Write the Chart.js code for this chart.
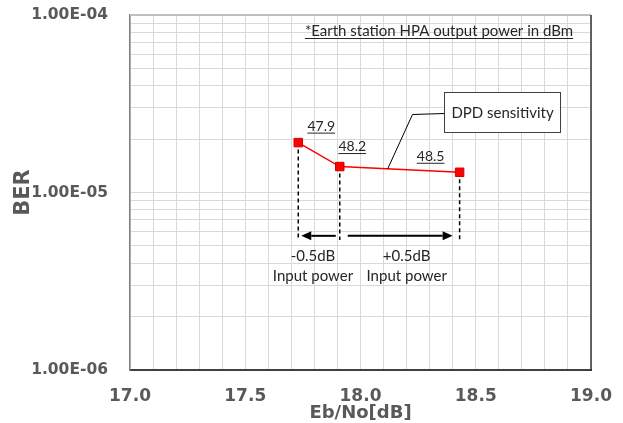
<!DOCTYPE html>
<html><head><meta charset="utf-8">
<script src="https://cdn.jsdelivr.net/npm/chart.js@4"></script>
<style>html,body{margin:0;padding:0;background:#fff}#wrap{width:623px;height:423px;position:relative}canvas{display:block}</style>
</head><body><div id="wrap"><canvas id="c" width="623" height="423" style="width:623px;height:423px"></canvas></div>
<script>
// ---- data ----
const ebno = [17.73, 17.91, 18.43];
const ber = [1.91e-5, 1.40e-5, 1.30e-5];
const hpaPower = ['47.9', '48.2', '48.5'];
const xTickLabels = ['17.0', '17.5', '18.0', '18.5', '19.0'];
const yTickLabels = ['1.00E-06', '1.00E-05', '1.00E-04'];
const xTitle = 'Eb/No[dB]';
const yTitle = 'BER';
const noteText = '*Earth station HPA output power in dBm';
const calloutText = 'DPD sensitivity';
const stepLabels = ['-0.5dB', '+0.5dB'];
const stepSub = 'Input power';
const dropBottom = 5.4e-6;   // BER level where dashed drop lines end
const arrowLevel = 5.7e-6;   // BER level of the step arrows

const X_MIN = 17, X_MAX = 19, Y_MIN = 1e-6, Y_MAX = 1e-4;
const ANN_FONT = '"Lato", "Open Sans", sans-serif';
const TXT = '#262626';

function underlined(ctx, text, cx, baseline, size) {
  ctx.save();
  ctx.font = size + 'px ' + ANN_FONT;
  ctx.fillStyle = TXT;
  ctx.textAlign = 'center';
  ctx.textBaseline = 'alphabetic';
  ctx.fillText(text, cx, baseline);
  const w = ctx.measureText(text).width;
  ctx.strokeStyle = TXT;
  ctx.lineWidth = 1;
  ctx.beginPath();
  ctx.moveTo(cx - w / 2, baseline + 2.5);
  ctx.lineTo(cx + w / 2, baseline + 2.5);
  ctx.stroke();
  ctx.restore();
}
function plain(ctx, text, cx, baseline, size) {
  ctx.save();
  ctx.font = size + 'px ' + ANN_FONT;
  ctx.fillStyle = TXT;
  ctx.textAlign = 'center';
  ctx.textBaseline = 'alphabetic';
  ctx.fillText(text, cx, baseline);
  ctx.restore();
}
function arrow(ctx, x0, x1, y) {
  const dir = Math.sign(x1 - x0);
  const hl = 10, hw = 4.5;
  ctx.save();
  ctx.strokeStyle = '#000'; ctx.fillStyle = '#000'; ctx.lineWidth = 2;
  ctx.beginPath(); ctx.moveTo(x0, y); ctx.lineTo(x1 - dir * hl, y); ctx.stroke();
  ctx.beginPath(); ctx.moveTo(x1, y); ctx.lineTo(x1 - dir * hl, y - hw); ctx.lineTo(x1 - dir * hl, y + hw); ctx.closePath(); ctx.fill();
  ctx.restore();
}

const annotations = {
  id: 'annotations',
  beforeDatasetsDraw(chart) {
    const {ctx, scales: {x, y}} = chart;
    ctx.save();
    ctx.strokeStyle = '#000'; ctx.lineWidth = 1.5; ctx.setLineDash([4, 3]);
    const yb = y.getPixelForValue(dropBottom);
    ebno.forEach((v, i) => {
      const px = x.getPixelForValue(v);
      ctx.beginPath(); ctx.moveTo(px, y.getPixelForValue(ber[i])); ctx.lineTo(px, yb); ctx.stroke();
    });
    ctx.restore();
  },
  afterDatasetsDraw(chart) {
    const {ctx, chartArea: ca, scales: {x, y}} = chart;
    // top / right frame
    ctx.save();
    ctx.strokeStyle = '#bfbfbf'; ctx.lineWidth = 2;
    ctx.beginPath(); ctx.moveTo(ca.left, ca.top); ctx.lineTo(ca.right, ca.top); ctx.stroke();
    ctx.strokeStyle = '#333'; ctx.lineWidth = 1.5;
    ctx.beginPath(); ctx.moveTo(ca.right, ca.top); ctx.lineTo(ca.right, ca.bottom + 1); ctx.stroke();
    ctx.restore();

    const px = ebno.map(v => x.getPixelForValue(v));
    const py = ber.map(v => y.getPixelForValue(v));
    // value labels
    const offs = [[23, -12], [12.5, -15.5], [-29, -11.5]];
    hpaPower.forEach((t, i) => underlined(ctx, t, px[i] + offs[i][0], py[i] + offs[i][1], 14));

    // arrows
    const ya = y.getPixelForValue(arrowLevel);
    arrow(ctx, px[1] - 4, px[0] + 3, ya);
    arrow(ctx, px[1] + 8, px[2] - 7, ya);
    const c1 = (px[0] + px[1]) / 2 - 6, c2 = (px[1] + px[2]) / 2 + 7;
    plain(ctx, stepLabels[0], c1, ya + 25, 15);
    plain(ctx, stepSub, c1, ya + 45, 15);
    plain(ctx, stepLabels[1], c2, ya + 25, 15);
    plain(ctx, stepSub, c2, ya + 45, 15);

    // note at top
    underlined(ctx, noteText, ca.left + 309, ca.top + 21, 15);

    // callout
    const bx = ca.left + 314.5, by = ca.top + 77.5, bw = 116, bh = 40;
    const tx = x.getPixelForValue(ebno[1] + 0.4 * (ebno[2] - ebno[1]));
    const ty = y.getPixelForValue(Math.pow(10, Math.log10(ber[1]) + 0.4 * (Math.log10(ber[2]) - Math.log10(ber[1]))));
    ctx.save();
    ctx.strokeStyle = '#000'; ctx.lineWidth = 1;
    ctx.beginPath(); ctx.moveTo(bx, by + bh / 2 + 1); ctx.lineTo(bx - 32, by + bh / 2 + 2); ctx.lineTo(tx, ty); ctx.stroke();
    ctx.fillStyle = '#fff'; ctx.fillRect(bx, by, bw, bh);
    ctx.strokeStyle = '#404040'; ctx.strokeRect(bx, by, bw, bh);
    ctx.restore();
    plain(ctx, calloutText, bx + bw / 2, by + bh / 2 + 5, 15);
  }
};

const xGrid = [];
for (let i = 0; i <= 20; i++) xGrid.push(+(X_MIN + i * 0.1).toFixed(1));
const yGrid = [];
for (let e = -6; e < -4; e++) for (let m = 1; m <= 9; m++) yGrid.push(+(m * Math.pow(10, e)).toPrecision(3));
yGrid.push(Y_MAX);

new Chart(document.getElementById('c'), {
  type: 'line',
  data: {
    datasets: [{
      data: ebno.map((v, i) => ({x: v, y: ber[i]})),
      borderColor: '#ff0000',
      borderWidth: 1.5,
      backgroundColor: '#ff0000',
      pointStyle: 'rect',
      pointRadius: 6,
      pointBorderColor: '#d00000',
      pointBorderWidth: 1,
      pointBackgroundColor: '#ff0000',
      tension: 0
    }]
  },
  options: {
    responsive: false,
    maintainAspectRatio: false,
    animation: false,
    devicePixelRatio: 1,
    layout: {padding: {left: 0, top: 15, right: 32, bottom: 0}},
    plugins: {legend: {display: false}, tooltip: {enabled: false}},
    scales: {
      x: {
        type: 'linear', min: X_MIN, max: X_MAX,
        afterBuildTicks: s => { s.ticks = xGrid.map(v => ({value: v})); },
        afterFit: s => { s.height = 53; s.paddingLeft = 0; s.paddingRight = 0; },
        grid: {color: '#d9d9d9', lineWidth: 1, drawTicks: false},
        border: {color: '#404040', width: 2},
        ticks: {
          autoSkip: false, maxRotation: 0, padding: 16,
          color: '#595959', font: {family: 'DejaVu Sans', weight: 'bold', size: 17},
          callback: (v, i) => (i % 5 === 0 ? xTickLabels[i / 5] : '')
        },
        title: {display: true, text: xTitle, color: '#595959',
          font: {family: 'DejaVu Sans', weight: 'bold', size: 18, lineHeight: 1.1}, padding: {top: 0, bottom: 0}}
      },
      y: {
        type: 'logarithmic', min: Y_MIN, max: Y_MAX,
        afterBuildTicks: s => { s.ticks = yGrid.map(v => ({value: v})); },
        afterFit: s => { s.width = 130; s.paddingTop = 0; s.paddingBottom = 0; },
        grid: {color: '#d9d9d9', lineWidth: 1, drawTicks: false},
        border: {color: '#808080', width: 1.5},
        ticks: {
          autoSkip: false, padding: 22,
          color: '#595959', font: {family: 'DejaVu Sans', weight: 'bold', size: 15.5},
          callback: (v, i) => (i % 9 === 0 ? yTickLabels[i / 9] : '')
        },
        title: {display: true, text: yTitle, color: '#595959',
          font: {family: 'DejaVu Sans', weight: 'bold', size: 21}, padding: {top: 11, bottom: 0}}
      }
    }
  },
  plugins: [annotations]
});
</script>
</body></html>
